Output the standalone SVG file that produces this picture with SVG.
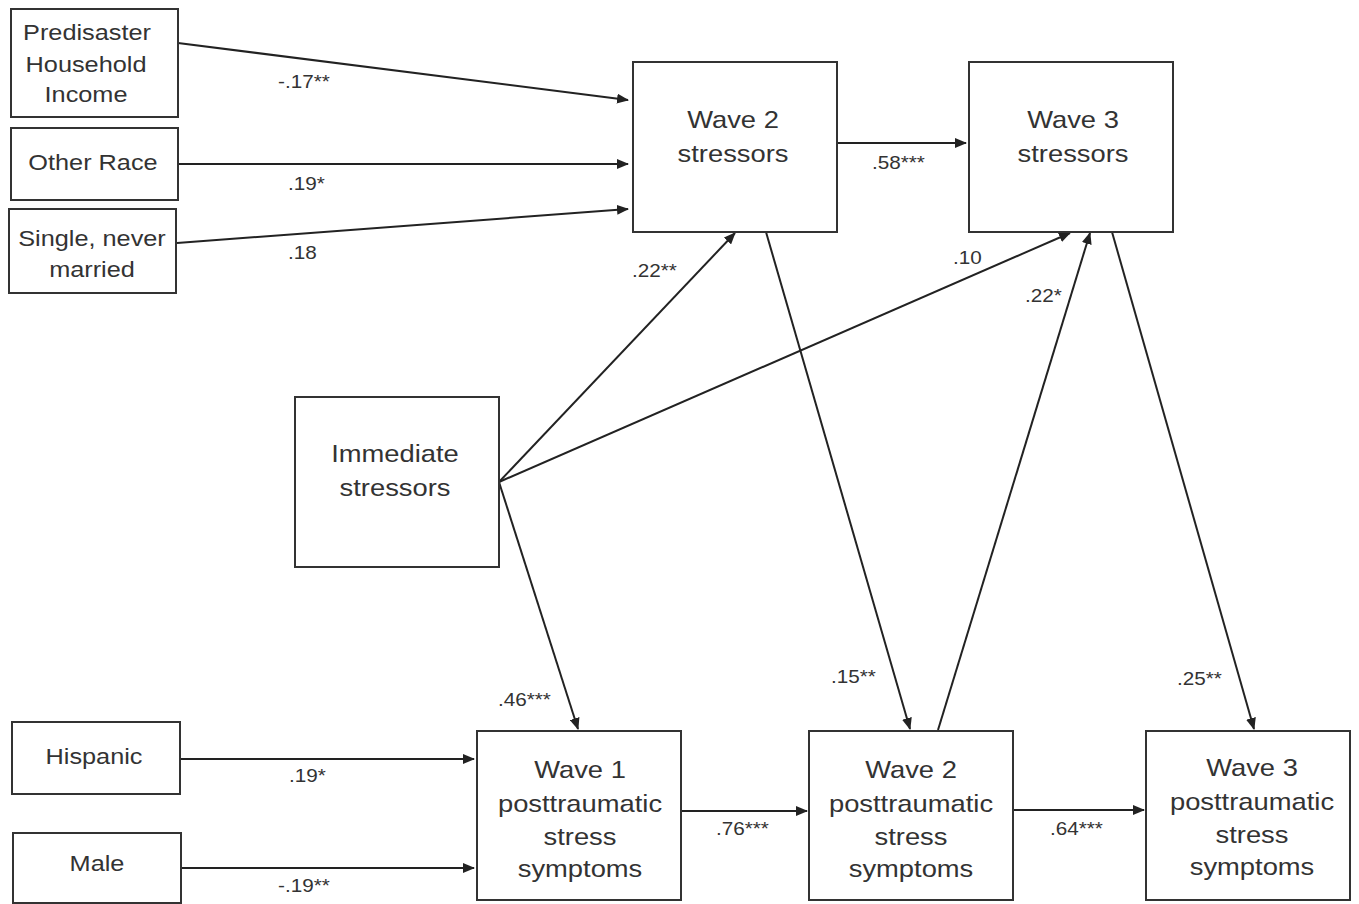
<svg xmlns="http://www.w3.org/2000/svg" width="1359" height="904" viewBox="0 0 1359 904">
<defs>
<style>
.box{fill:#fff;stroke:#333;stroke-width:2}
.t{font-family:"Liberation Sans",Arial,sans-serif;fill:#333;text-anchor:middle}
.s{font-size:22px}
.m{font-size:24px}
.lab{font-family:"Liberation Sans",Arial,sans-serif;fill:#333;font-size:18px}
.c line{stroke:#222;stroke-width:2;marker-end:url(#ah)}
</style>
<marker id="ah" viewBox="0 0 12 10" refX="11" refY="5" markerWidth="12" markerHeight="10" markerUnits="userSpaceOnUse" orient="auto">
<path d="M0,0 L12,5 L0,10 z" fill="#222"/>
</marker>
</defs>
<rect width="1359" height="904" fill="#fff"/>

<g id="connectors" class="c">
<line x1="178" y1="43" x2="628" y2="100"/>
<line x1="178" y1="164" x2="628" y2="164"/>
<line x1="177" y1="243" x2="628" y2="209"/>
<line x1="837" y1="143" x2="966" y2="143"/>
<line x1="499" y1="482" x2="735" y2="233"/>
<line x1="499" y1="482" x2="1070" y2="233"/>
<line x1="499" y1="482" x2="578" y2="729"/>
<line x1="766" y1="232" x2="910" y2="729"/>
<line x1="938" y1="730" x2="1090" y2="233"/>
<line x1="1112" y1="232" x2="1254" y2="729"/>
<line x1="180" y1="759" x2="474" y2="759"/>
<line x1="181" y1="868" x2="474" y2="868"/>
<line x1="681" y1="811" x2="807" y2="811"/>
<line x1="1013" y1="810" x2="1144" y2="810"/>
</g>

<g id="labels">
<text class="lab" transform="translate(278 88) scale(1.15 1)">-.17**</text>
<text class="lab" transform="translate(288 190) scale(1.15 1)">.19*</text>
<text class="lab" transform="translate(288 259) scale(1.15 1)">.18</text>
<text class="lab" transform="translate(872 169) scale(1.15 1)">.58***</text>
<text class="lab" transform="translate(632 277) scale(1.15 1)">.22**</text>
<text class="lab" transform="translate(953 264) scale(1.15 1)">.10</text>
<text class="lab" transform="translate(1025 302) scale(1.15 1)">.22*</text>
<text class="lab" transform="translate(498 706) scale(1.15 1)">.46***</text>
<text class="lab" transform="translate(831 683) scale(1.15 1)">.15**</text>
<text class="lab" transform="translate(716 835) scale(1.15 1)">.76***</text>
<text class="lab" transform="translate(1050 835) scale(1.15 1)">.64***</text>
<text class="lab" transform="translate(1177 685) scale(1.15 1)">.25**</text>
<text class="lab" transform="translate(289 782) scale(1.15 1)">.19*</text>
<text class="lab" transform="translate(278 892) scale(1.15 1)">-.19**</text>
</g>

<g id="predisaster">
<rect class="box" x="11" y="9" width="167" height="108"/>
<text class="t s" transform="translate(87 40) scale(1.15 1)">Predisaster</text>
<text class="t s" transform="translate(86 72) scale(1.15 1)">Household</text>
<text class="t s" transform="translate(86 102) scale(1.15 1)">Income</text>
</g>
<g id="other-race">
<rect class="box" x="11" y="128" width="167" height="72"/>
<text class="t s" transform="translate(93 170) scale(1.15 1)">Other Race</text>
</g>
<g id="single">
<rect class="box" x="9" y="209" width="167" height="84"/>
<text class="t s" transform="translate(92 246) scale(1.15 1)">Single, never</text>
<text class="t s" transform="translate(92 277) scale(1.15 1)">married</text>
</g>
<g id="wave2-stressors">
<rect class="box" x="633" y="62" width="204" height="170"/>
<text class="t m" transform="translate(733 128) scale(1.14 1)">Wave 2</text>
<text class="t m" transform="translate(733 162) scale(1.14 1)">stressors</text>
</g>
<g id="wave3-stressors">
<rect class="box" x="969" y="62" width="204" height="170"/>
<text class="t m" transform="translate(1073 128) scale(1.14 1)">Wave 3</text>
<text class="t m" transform="translate(1073 162) scale(1.14 1)">stressors</text>
</g>
<g id="immediate-stressors">
<rect class="box" x="295" y="397" width="204" height="170"/>
<text class="t m" transform="translate(395 462) scale(1.14 1)">Immediate</text>
<text class="t m" transform="translate(395 496) scale(1.14 1)">stressors</text>
</g>
<g id="hispanic">
<rect class="box" x="12" y="722" width="168" height="72"/>
<text class="t s" transform="translate(94 764) scale(1.15 1)">Hispanic</text>
</g>
<g id="male">
<rect class="box" x="13" y="833" width="168" height="70"/>
<text class="t s" transform="translate(97 871) scale(1.15 1)">Male</text>
</g>
<g id="wave1-ptss">
<rect class="box" x="477" y="731" width="204" height="169"/>
<text class="t m" transform="translate(580 778) scale(1.14 1)">Wave 1</text>
<text class="t m" transform="translate(580 812) scale(1.14 1)">posttraumatic</text>
<text class="t m" transform="translate(580 845) scale(1.14 1)">stress</text>
<text class="t m" transform="translate(580 877) scale(1.14 1)">symptoms</text>
</g>
<g id="wave2-ptss">
<rect class="box" x="809" y="731" width="204" height="169"/>
<text class="t m" transform="translate(911 778) scale(1.14 1)">Wave 2</text>
<text class="t m" transform="translate(911 812) scale(1.14 1)">posttraumatic</text>
<text class="t m" transform="translate(911 845) scale(1.14 1)">stress</text>
<text class="t m" transform="translate(911 877) scale(1.14 1)">symptoms</text>
</g>
<g id="wave3-ptss">
<rect class="box" x="1146" y="731" width="204" height="169"/>
<text class="t m" transform="translate(1252 776) scale(1.14 1)">Wave 3</text>
<text class="t m" transform="translate(1252 810) scale(1.14 1)">posttraumatic</text>
<text class="t m" transform="translate(1252 843) scale(1.14 1)">stress</text>
<text class="t m" transform="translate(1252 875) scale(1.14 1)">symptoms</text>
</g>
</svg>
